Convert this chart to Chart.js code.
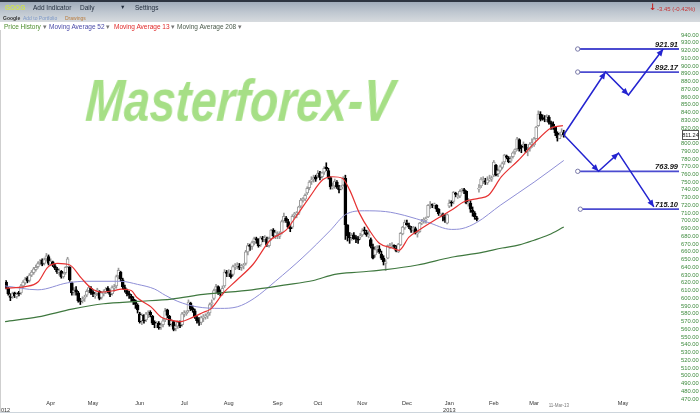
<!DOCTYPE html>
<html><head><meta charset="utf-8">
<script src="https://cdn.jsdelivr.net/npm/chart.js@4.4.1/dist/chart.umd.min.js"></script>
<style>
html,body{margin:0;padding:0;background:#fff;width:700px;height:413px;overflow:hidden;font-family:"Liberation Sans",Arial,sans-serif}
#wrap{position:relative;width:700px;height:413px}
canvas{position:absolute;left:0;top:0}
.t{position:absolute;white-space:nowrap;line-height:1;font-size:6.5px;z-index:3}
#bar{position:absolute;left:0;top:0;width:700px;height:22px;background:linear-gradient(#9aa7b6,#bfc7d0 55%,#d7dbdf);z-index:2}
#strip{position:absolute;left:0;top:0;width:700px;height:2px;background:#2c3440;z-index:3}
#lborder{position:absolute;left:0;top:30px;width:1px;height:383px;background:#cfcfcf;z-index:1}
#bborder{position:absolute;left:0;top:412px;width:700px;height:1px;background:#cdd5dc;z-index:1}
#wm{position:absolute;left:84px;top:71px;font:italic bold 60px "Liberation Sans",Arial,sans-serif;color:#a6df86;line-height:60px;transform:scaleX(0.77) skewX(-5deg);transform-origin:0 100%;white-space:nowrap;z-index:1}
</style></head>
<body><div id="wrap">
<canvas id="c" width="700" height="413"></canvas>
<div id="lborder"></div><div id="bborder"></div>
<div id="bar"></div><div id="strip"></div>
<div class="t" style="left:5px;top:4.8px;color:#cfe34e;font-weight:bold">GOOG</div>
<div class="t" style="left:33px;top:4.8px;color:#1e2a3a">Add Indicator</div>
<div class="t" style="left:80px;top:4.8px;color:#1e2a3a">Daily</div>
<div class="t" style="left:120px;top:5.2px;color:#1e2a3a;font-size:5.5px">▼</div>
<div class="t" style="left:135px;top:4.8px;color:#1e2a3a">Settings</div>
<div class="t" style="left:649px;top:2.5px;color:#c42424;font-size:9px;font-weight:bold;font-family:'DejaVu Sans'">↓</div>
<div class="t" style="left:657px;top:5.5px;color:#c83232;font-size:6px">-3.45 (-0.42%)</div>
<div class="t" style="left:3px;top:15.5px;color:#333;font-size:5px;font-weight:bold">Google</div>
<div class="t" style="left:23px;top:15.5px;color:#7c98c8;font-size:5px">Add to Portfolio</div>
<div class="t" style="left:65px;top:15.5px;color:#b87a3a;font-size:5px">Drawings</div>
<div class="t" style="left:4px;top:23.8px;color:#4f8f2f">Price History <span style="color:#777">▾</span></div>
<div class="t" style="left:49px;top:23.8px;color:#4a4aa8">Moving Average 52 <span style="color:#777">▾</span></div>
<div class="t" style="left:114px;top:23.8px;color:#e02828">Moving Average 13 <span style="color:#777">▾</span></div>
<div class="t" style="left:177px;top:23.8px;color:#4a5a4a">Moving Average 208 <span style="color:#777">▾</span></div>
<div id="wm">Masterforex-V</div>
</div>
<script>
// ---- tick labels (x = trading-day index, 0 = 1 Mar 2012) ----
const monthTicks  = [0, 22, 42, 64, 85, 106, 129, 148, 169, 190, 210, 231, 250, 292];
const monthLabels = [['','2012'],'Apr','May','Jun','Jul','Aug','Sep','Oct','Nov','Dec',['Jan','2013'],'Feb','Mar','May'];
const dateMarkX = 261.7, dateMarkText = '11-Mar-13';

// ---- daily price history (GOOG) ----
const opens = [617,621,613,603,602,607,602,607,607,616,620,626,623,630,633,637,641,646,649,645,651,654,
644,647,642,638,633,635,628,633,641,640,620,608,611,607,597,597,600,604,610,613,
608,603,606,609,601,606,609,613,609,606,613,616,629,634,624,614,610,606,603,599,597,591,
580,571,578,572,579,582,577,569,566,568,563,566,572,585,577,567,570,561,564,569,566,
580,580,584,594,587,584,575,572,569,575,576,577,581,593,600,611,615,608,606,616,634,
632,632,631,641,642,642,640,642,645,660,668,667,673,677,675,669,678,676,677,668,677,688,681,
681,680,685,700,704,699,692,692,708,709,710,719,727,728,736,743,751,754,757,
759,762,757,763,769,765,756,743,745,750,743,741,746,755,695,681,679,682,678,676,679,
682,688,685,681,676,666,656,664,664,657,652,645,652,666,668,668,665,660,669,683,691,
697,694,691,688,690,683,686,697,700,701,705,720,721,720,720,715,708,708,705,697,
719,724,725,736,731,732,739,740,738,722,723,714,710,704,741,745,752,752,749,753,754,
759,772,761,765,769,776,784,781,777,783,789,793,805,796,797,799,790,793,799,
798,806,823,838,833,832,831,834,827,825,821,813,806,811,814];
const highs = [626,623,614,606,608,608,607,609,618,623,627,628,632,636,640,643,647,650,651,652,658,656,
651,648,644,640,638,636,634,641,653,641,621,614,615,609,600,602,604,611,616,615,
610,608,613,610,609,611,614,615,611,616,618,630,639,635,626,617,612,609,605,602,598,593,
582,580,579,582,584,584,578,571,570,570,568,574,587,586,578,573,571,566,571,571,582,
584,584,598,595,590,586,577,575,577,579,580,582,594,598,612,618,616,611,616,637,636,
637,636,643,645,646,645,644,645,662,671,670,674,679,679,677,680,680,681,679,679,689,690,688,
686,686,701,710,706,702,694,708,711,712,719,729,730,735,744,752,757,759,759,
765,764,763,770,775,768,757,749,754,752,746,746,757,759,695,685,684,685,681,680,684,
690,692,688,687,678,670,667,668,668,661,655,650,669,671,672,669,668,671,685,693,701,
701,697,693,693,692,688,698,702,704,705,721,725,722,723,721,716,710,710,708,709,
727,726,738,737,735,740,742,742,739,729,726,718,712,706,747,756,757,755,757,759,758,
778,773,767,772,776,786,785,783,783,789,793,808,806,798,802,799,795,801,806,
808,822,842,841,837,836,837,836,829,828,822,815,814,819,817];
const lows = [614,612,604,597,600,601,600,603,605,614,618,620,621,628,631,635,639,643,642,643,648,643,
642,641,637,632,630,626,626,631,640,622,604,604,604,595,592,594,596,602,607,605,
602,600,604,598,599,603,606,607,602,604,609,613,625,622,612,608,603,600,596,592,587,581,
568,566,568,570,575,576,566,562,562,560,560,563,570,575,564,564,558,558,561,562,564,
576,578,582,584,582,574,568,565,566,570,573,574,578,589,598,607,605,603,604,614,628,
628,626,629,637,638,637,636,638,643,656,662,663,669,671,666,667,673,673,667,666,675,678,677,
677,677,683,698,698,691,686,690,704,704,708,717,724,726,734,740,747,750,751,
756,753,755,760,765,754,741,741,742,742,736,740,745,676,674,671,675,676,672,671,676,
680,683,680,678,665,651,653,659,658,650,643,636,651,664,665,664,660,659,668,682,689,
694,690,685,685,683,679,685,695,697,697,704,716,717,716,712,707,705,700,698,696,
717,719,722,731,729,730,737,735,722,719,711,706,702,700,737,743,748,747,747,751,751,
757,758,757,763,767,773,780,775,775,781,786,791,790,788,794,788,784,790,795,
796,806,822,829,830,828,828,825,818,818,810,803,806,809,808];
const closes = [622,614,606,601,606,603,605,606,616,621,625,622,630,634,638,640,645,648,644,650,655,645,
648,643,639,634,636,628,632,640,651,624,607,610,608,597,596,599,601,609,614,607,
605,605,611,600,607,608,612,610,605,614,615,628,636,625,615,611,606,604,600,596,592,585,
570,578,571,580,581,579,568,566,567,562,565,571,584,578,566,571,560,564,569,564,580,
580,582,595,586,585,576,571,569,575,575,577,580,592,594,610,615,607,606,613,634,632,
632,628,641,642,642,640,642,642,660,668,667,672,677,675,668,678,676,678,669,677,688,681,685,
681,684,699,706,700,692,690,706,709,709,718,727,728,733,742,750,753,756,754,
761,756,762,768,767,757,744,744,751,744,740,744,755,695,681,678,681,677,677,675,681,
687,687,682,682,667,652,663,665,660,652,647,647,668,667,669,667,661,670,684,692,698,
695,692,688,691,684,685,697,698,702,701,720,721,720,722,715,709,708,706,701,708,
723,723,737,734,733,738,741,739,723,724,715,711,705,702,742,754,753,750,753,753,756,
776,759,765,770,774,785,782,776,780,788,792,806,793,795,799,790,791,799,801,
806,821,838,831,832,831,834,827,825,822,814,807,811,815,811.24];

// ---- moving averages ----
const ma13X = [0.5,10,16,20.6,25.3,31,36.5,41.2,46,52,55.2,60,62.7,69.3,74,78.7,83.3,89.4,94.1,97.4,103.5,109.6,117.5,125.5,133,137.6,144.2,150.3,155,159.6,163,167.6,172.3,177,183,186.3,191,195.7,203.2,211.1,217.2,223.8,228.5,234.6,242.5,250,258,263.6];
const ma13Y = [613,615,621,640,645,643,626,613,608,610,612,610,601,589,576,572,570,576,582,586,607,623,644,675,688,705,731,753,757,755,740,710,688,671,665,662,679,688,701,714,725,729,733,757,778,800,820,823];
const ma52X = [0.5,16,30,39,55,63,71,76,82,91,102,110,118,128,141,154,161,170,180,189,200,211,216,223,234,250,264];
const ma52Y = [616,611,620,622,622,618,612,604,596,589,587,589,600,622,653,688,708,713,712,707,698,689,690,698,720,750,778];
const ma208X = [0.5,16,32,47,63,79,94,117,132,146,156,168,180,195,211,225,235,243,250,257,264];
const ma208Y = [570,576,586,593,596,599,605,611,617,623,631,634,637,643,653,659,665,669,675,682,692];

// ---- projection drawings ----
const levels = [921.91, 892.17, 763.99, 715.10];
const levelStart = [270.6, 270.6, 270.6, 271.8];
const upPathX = [264, 283.7, 294.5, 310.9];
const upPathY = [811.24, 892.17, 862.5, 921.91];
const downPathX = [264, 280.4, 289.8, 306.5];
const downPathY = [811.24, 763.99, 787.5, 718];
const lastPrice = 811.24;

const X_MIN = 0.468, X_MAX = 318.35;
const isUp = i => closes[i] >= opens[i];
const pairs = (xs, ys) => xs.map((x, i) => ({x, y: ys[i]}));
const UP_GRAY = '#9a9a9a';

const datasets = [];
datasets.push({type:'bar', label:'wick', order:10, grouped:false, barThickness:1, borderWidth:0,
  data: closes.map((c,i)=>({x:i, y:[lows[i], highs[i]]})),
  backgroundColor: ctx => isUp(ctx.dataIndex) ? UP_GRAY : '#000000'});
datasets.push({type:'bar', label:'body', order:9, grouped:false, barThickness:3, minBarLength:1, borderSkipped:false,
  data: closes.map((c,i)=>({x:i, y:[opens[i], c]})),
  backgroundColor: ctx => isUp(ctx.dataIndex) ? '#ffffff' : '#000000',
  borderColor: ctx => isUp(ctx.dataIndex) ? UP_GRAY : '#000000',
  borderWidth: 1});
const lineBase = {type:'line', pointRadius:0, fill:false, cubicInterpolationMode:'monotone'};
datasets.push(Object.assign({}, lineBase, {label:'MA208', order:6, data:pairs(ma208X, ma208Y), borderColor:'#3f783f', borderWidth:1.2}));
datasets.push(Object.assign({}, lineBase, {label:'MA52', order:6, data:pairs(ma52X, ma52Y), borderColor:'#8e8ed6', borderWidth:1}));
datasets.push(Object.assign({}, lineBase, {label:'MA13', order:5, data:pairs(ma13X, ma13Y), borderColor:'#e63232', borderWidth:1.2}));
levels.forEach((lv, k) => {
  datasets.push({type:'line', label:'level'+k, order:2, data:[{x:levelStart[k], y:lv},{x:X_MAX, y:lv}],
    borderColor:'#4b4bd0', borderWidth:1.8, pointRadius:[2.2,0], pointBackgroundColor:'#ffffff',
    pointBorderColor:'#7878a8', pointBorderWidth:1, tension:0});
});
datasets.push({type:'line', label:'up', order:1, arrows:true, data:pairs(upPathX, upPathY), borderColor:'#2424d0', borderWidth:1.5, pointRadius:0, tension:0});
datasets.push({type:'line', label:'down', order:1, arrows:true, data:pairs(downPathX, downPathY), borderColor:'#2424d0', borderWidth:1.5, pointRadius:0, tension:0});

const drawPlugin = {
  id:'extras',
  afterDatasetsDraw(chart){
    const ctx = chart.ctx, ys = chart.scales.y, area = chart.chartArea;
    chart.data.datasets.forEach((ds, di) => {
      if (!ds.arrows) return;
      const pts = chart.getDatasetMeta(di).data;
      ctx.save(); ctx.fillStyle = ds.borderColor;
      for (let j = 1; j < pts.length; j++) {
        const a = pts[j-1], b = pts[j];
        const ang = Math.atan2(b.y-a.y, b.x-a.x), L = 7, W = 3;
        ctx.beginPath();
        ctx.moveTo(b.x, b.y);
        ctx.lineTo(b.x - L*Math.cos(ang) + W*Math.sin(ang), b.y - L*Math.sin(ang) - W*Math.cos(ang));
        ctx.lineTo(b.x - L*Math.cos(ang) - W*Math.sin(ang), b.y - L*Math.sin(ang) + W*Math.cos(ang));
        ctx.closePath(); ctx.fill();
      }
      ctx.restore();
    });
    ctx.save();
    ctx.font = 'italic bold 7.5px "Liberation Sans", Arial, sans-serif';
    ctx.fillStyle = '#111'; ctx.textAlign = 'right'; ctx.textBaseline = 'alphabetic';
    levels.forEach(lv => ctx.fillText(lv.toFixed(2), area.right - 1, ys.getPixelForValue(lv) - 2.2));
    ctx.restore();
  },
  afterDraw(chart){
    const ctx = chart.ctx, xs = chart.scales.x, ys = chart.scales.y, area = chart.chartArea;
    const y = ys.getPixelForValue(lastPrice);
    ctx.save();
    ctx.fillStyle = '#fff'; ctx.strokeStyle = '#555'; ctx.lineWidth = 1;
    ctx.fillRect(area.right + 3, Math.round(y) - 4, 16, 9);
    ctx.strokeRect(area.right + 3.5, Math.round(y) - 4.5, 16, 9);
    ctx.fillStyle = '#222'; ctx.font = '5.6px "Liberation Sans", Arial, sans-serif';
    ctx.textAlign = 'center'; ctx.textBaseline = 'middle';
    ctx.fillText(lastPrice.toFixed(2), area.right + 11.5, Math.round(y) + 0.5);
    ctx.fillStyle = '#777'; ctx.font = '4.5px "Liberation Sans", Arial, sans-serif';
    ctx.fillText(dateMarkText, xs.getPixelForValue(dateMarkX), 406);
    ctx.restore();
  }
};

Chart.defaults.font.family = '"Liberation Sans", Arial, sans-serif';
new Chart(document.getElementById('c'), {
  type:'bar',
  data:{datasets},
  options:{
    responsive:false, animation:false, devicePixelRatio:1,
    layout:{padding:{top:35, left:0, right:0, bottom:0}},
    plugins:{legend:{display:false}, tooltip:{enabled:false}},
    scales:{
      x:{type:'linear', min:X_MIN, max:X_MAX, offset:false,
        grid:{display:false, drawTicks:false}, border:{display:false},
        afterBuildTicks: s => { s.ticks = monthTicks.map(v => ({value:v})); },
        ticks:{autoSkip:false, maxRotation:0, minRotation:0, padding:1.5, color:'#333',
          font:{size:5.6, lineHeight:1.15}, callback:(v,i) => monthLabels[i]},
        afterFit: s => { s.height = 14; s.paddingLeft = 0; s.paddingRight = 0; }},
      y:{type:'linear', position:'right', min:470, max:940,
        grid:{display:false, drawTicks:false}, border:{display:false},
        afterBuildTicks: s => { const t = []; for (let v = 470; v <= 940; v += 10) t.push({value:v}); s.ticks = t; },
        ticks:{autoSkip:false, padding:2, color:'#3d8a3d', font:{size:5.8},
          callback: v => Math.abs(v - lastPrice) < 5 ? '' : v.toFixed(2)},
        afterFit: s => { s.width = 21; s.paddingTop = 0; s.paddingBottom = 0; }}
    }
  },
  plugins:[drawPlugin]
});
</script>
</body></html>
